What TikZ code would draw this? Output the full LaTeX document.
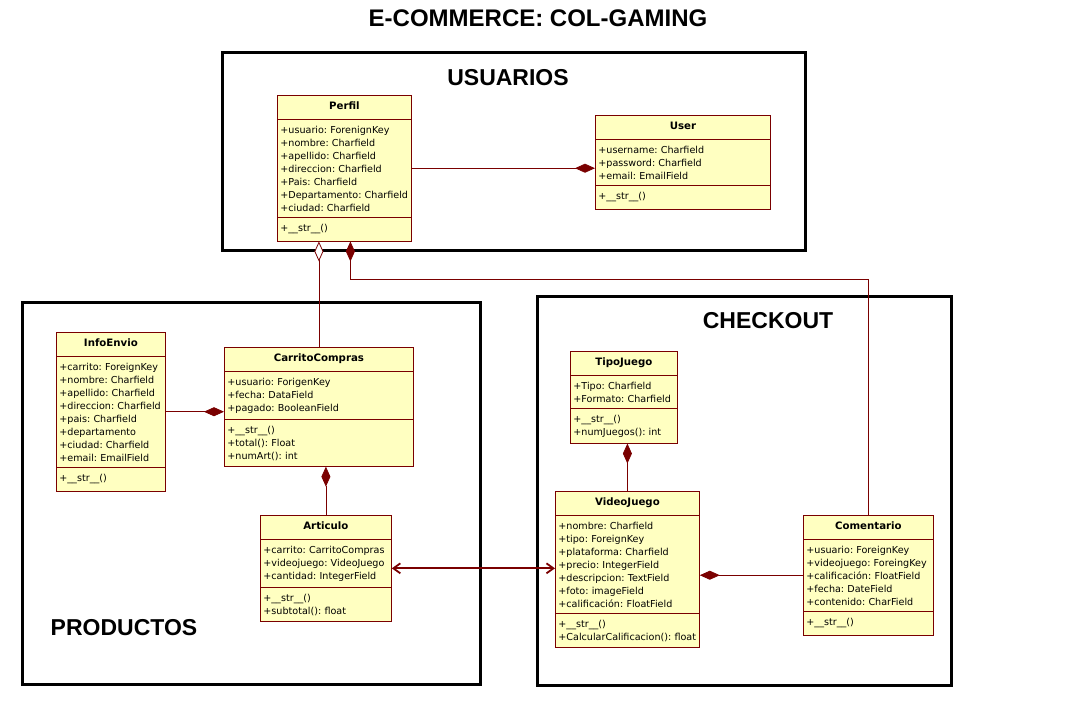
\documentclass[tikz,border=0pt]{standalone}
\usepackage{fontspec}
\setmainfont{DejaVu Sans}
\newfontfamily\headfont{Liberation Sans}
\usetikzlibrary{arrows.meta,shapes.multipart,calc}

\definecolor{umlfill}{HTML}{FFFFC1}
\definecolor{umlline}{HTML}{7A0000}
\frenchspacing

\begin{document}
\begin{tikzpicture}[x=1pt,y=-1pt]

\tikzset{
    umlclass/.style={rectangle split, rectangle split parts=3, draw=umlline, fill=umlfill,
        line width=0.8pt, text width=#1, align=left, inner xsep=3pt, inner ysep=5pt,
        anchor=north west, font=\fontsize{9.6}{13}\selectfont},
    frame/.style={line width=3pt},
    grouplabel/.style={font=\headfont\bfseries\fontsize{23}{23}\selectfont},
    link/.style={draw=umlline, line width=0.8pt},
    comp/.style={link, -{Diamond[length=20pt,width=9pt]}},
    aggr/.style={link, -{Diamond[open,fill=white,length=20pt,width=9pt]}},
    nav/.style={draw=umlline, line width=1.8pt,
        {Straight Barb[length=7pt,width=10pt]}-{Straight Barb[length=7pt,width=10pt]}}
}
\newcommand{\cname}[1]{\centering\strut{\fontsize{10.2}{13}\selectfont\bfseries #1}\par}

\useasboundingbox (0,0) rectangle (1075,721);

\node[font=\headfont\bfseries\fontsize{24}{24}\selectfont] (titulo) at (538,18) {E-COMMERCE: COL-GAMING};

\draw[frame] (222,52) rectangle (805,250);
\draw[frame] (22,302) rectangle (480,684);
\draw[frame] (537,296) rectangle (951,685);

\node[grouplabel] (usuarios) at (508,78) {USUARIOS};
\node[grouplabel] (productos) at (124,628) {PRODUCTOS};
\node[grouplabel] (checkout) at (768,321) {CHECKOUT};

\node[umlclass=128pt] (perfil) at (277,95) {\cname{Perfil}
    \nodepart{second}\strut+usuario: ForenignKey\\+nombre: Charfield\\+apellido: Charfield\\
    +direccion: Charfield\\+Pais: Charfield\\+Departamento: Charfield\\+ciudad: Charfield
    \nodepart{third}\strut+\_\_str\_\_()};

\node[umlclass=169pt] (user) at (595,115) {\cname{User}
    \nodepart{second}\strut+username: Charfield\\+password: Charfield\\+email: EmailField
    \nodepart{third}\strut+\_\_str\_\_()};

\node[umlclass=103pt] (infoenvio) at (56,332) {\cname{InfoEnvio}
    \nodepart{second}\strut+carrito: ForeignKey\\+nombre: Charfield\\+apellido: Charfield\\
    +direccion: Charfield\\+pais: Charfield\\+departamento\\+ciudad: Charfield\\+email: EmailField
    \nodepart{third}\strut+\_\_str\_\_()};

\node[umlclass=183pt] (carrito) at (224,347) {\cname{CarritoCompras}
    \nodepart{second}\strut+usuario: ForigenKey\\+fecha: DataField\\+pagado: BooleanField
    \nodepart{third}\strut+\_\_str\_\_()\\+total(): Float\\+numArt(): int};

\node[umlclass=125pt] (articulo) at (260,515) {\cname{Articulo}
    \nodepart{second}\strut+carrito: CarritoCompras\\+videojuego: VideoJuego\\+cantidad: IntegerField
    \nodepart{third}\strut+\_\_str\_\_()\\+subtotal(): float};

\node[umlclass=101pt] (tipojuego) at (570,351) {\cname{TipoJuego}
    \nodepart{second}\strut+Tipo: Charfield\\+Formato: Charfield
    \nodepart{third}\strut+\_\_str\_\_()\\+numJuegos(): int};

\node[umlclass=138pt] (videojuego) at (555,491) {\cname{VideoJuego}
    \nodepart{second}\strut+nombre: Charfield\\+tipo: ForeignKey\\+plataforma: Charfield\\
    +precio: IntegerField\\+descripcion: TextField\\+foto: imageField\\+calificación: FloatField
    \nodepart{third}\strut+\_\_str\_\_()\\+CalcularCalificacion(): float};

\node[umlclass=124pt] (comentario) at (803,515) {\cname{Comentario}
    \nodepart{second}\strut+usuario: ForeignKey\\+videojuego: ForeingKey\\+calificación: FloatField\\
    +fecha: DateField\\+contenido: CharField
    \nodepart{third}\strut+\_\_str\_\_()};

\draw[comp] (perfil.east) -- (perfil.east -| user.west);
\draw[aggr] (carrito.north) -- (carrito.north |- perfil.south);
\draw[comp] (comentario.north) -- ++(0,-236) -| ([xshift=6pt]perfil.south);
\draw[comp] (infoenvio.east) -- (infoenvio.east -| carrito.west);
\draw[comp] (articulo.north) -- (articulo.north |- carrito.south);
\draw[nav] (articulo.east) -- (articulo.east -| videojuego.west);
\draw[comp] (videojuego.north) -- (videojuego.north |- tipojuego.south);
\draw[comp] (comentario.west) -- (comentario.west -| videojuego.east);

\end{tikzpicture}
\end{document}
